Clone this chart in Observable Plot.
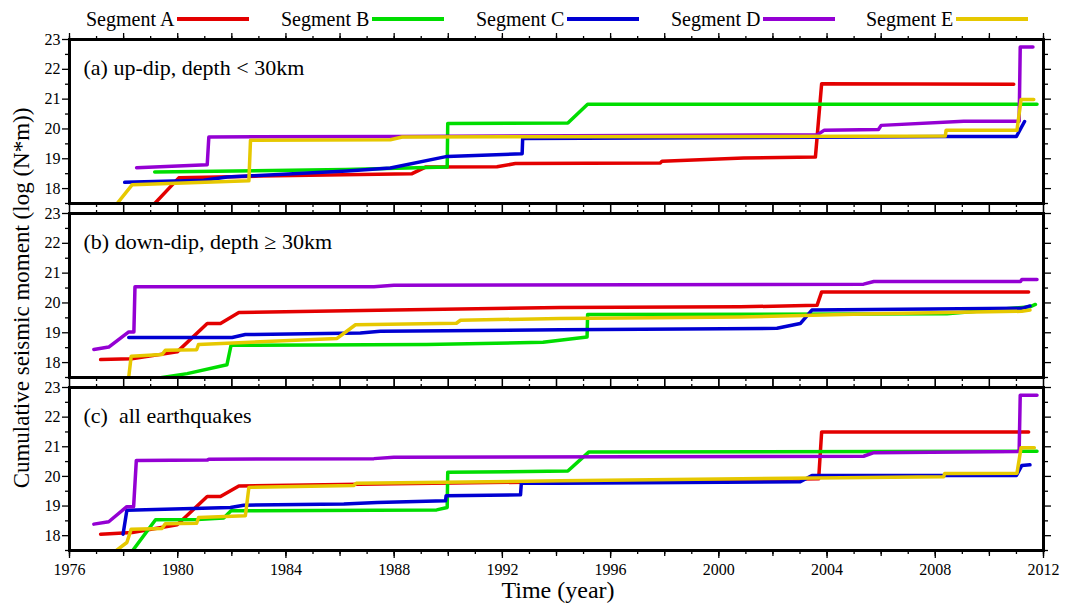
<!DOCTYPE html>
<html><head><meta charset="utf-8">
<script src="https://cdn.jsdelivr.net/npm/d3@7"></script>
<script src="https://cdn.jsdelivr.net/npm/@observablehq/plot@0.6"></script>
<style>
body{margin:0;background:#fff;}
#root{position:relative;width:1072px;height:608px;font-family:"Liberation Serif","Times New Roman",serif;color:#000;overflow:hidden;}
.pl{position:absolute;left:0;}
.lg{position:absolute;top:6px;left:86px;display:flex;}
.li{display:flex;align-items:center;width:195px;font-size:20px;line-height:26px;}
.sw{width:72px;height:4px;margin-left:3px;}
.ylab{position:absolute;left:-278px;top:285px;width:600px;text-align:center;font-size:23px;line-height:26px;transform:rotate(-90deg);transform-origin:50% 50%;white-space:nowrap;}
.xlab{position:absolute;left:258px;top:577px;width:600px;text-align:center;font-size:24px;line-height:26px;}
</style></head><body><div id="root"></div>
<script>
// ---- data ----
const segments = ["Segment A","Segment B","Segment C","Segment D","Segment E"];
const colors = ["#e30000","#00dd00","#0000d2","#9400d3","#e6c800"];
const panelLabels = ["(a) up-dip, depth < 30km","(b) down-dip, depth \u2265 30km","(c)\u00a0 all earthquakes"];
const yTicks = [18,19,20,21,22,23];
const yMinorTicks = [17.5,18.5,19.5,20.5,21.5,22.5];
const xTickLabels = [1976,1980,1984,1988,1992,1996,2000,2004,2008,2012];
const xEvenYears = d3.range(1976, 2013, 2);
const xYears = d3.range(1976, 2013, 1);

// (a) up-dip, [year, log moment]
const upA = [[1979.15,17.5],[1980.04,18.36],[1983,18.42],[1988.66,18.5],[1989.16,18.72],[1991.8,18.73],[1992.48,18.84],[1997.84,18.86],[1997.9,18.92],[2000.92,19.03],[2003.57,19.06],[2003.8,21.52],[2010.9,21.5]];
const upB = [[1979.15,18.56],[1986.2,18.64],[1989.96,18.72],[1989.98,20.18],[1994.42,20.2],[1995.15,20.83],[2011.76,20.83]];
const upC = [[1978.04,18.21],[1980.96,18.28],[1981.83,18.39],[1986.26,18.59],[1987.86,18.69],[1989.96,19.08],[1992.73,19.17],[1992.75,19.68],[2003.6,19.72],[2008.43,19.75],[2011.0,19.75],[2011.3,20.25]];
const upD = [[1978.48,18.7],[1981.09,18.8],[1981.15,19.73],[1987.99,19.75],[2003.63,19.8],[2003.9,19.96],[2005.9,19.98],[2006.0,20.12],[2009.05,20.26],[2011.1,20.26],[2011.14,22.75],[2011.61,22.75]];
const upE = [[1977.76,17.5],[1978.32,18.13],[1982.63,18.26],[1982.69,19.62],[1987.86,19.64],[1988.3,19.73],[2008.37,19.76],[2008.4,19.96],[2011.02,19.96],[2011.17,20.99],[2011.64,20.99]];

// (b) down-dip
const downA = [[1977.15,18.1],[1978.3,18.13],[1979.98,18.36],[1981.09,19.31],[1981.58,19.31],[1982.26,19.68],[1987.98,19.76],[1994.14,19.85],[2000.8,19.87],[2003.63,19.92],[2003.8,20.37],[2011.45,20.37]];
const downB = [[1979.12,17.46],[1980.35,17.63],[1981.82,17.93],[1981.97,18.58],[1989.2,18.61],[1993.5,18.68],[1995.13,18.86],[1995.15,19.61],[2008.43,19.64],[2011.5,19.87],[2011.7,19.95]];
const downC = [[1978.19,18.84],[1982.01,18.84],[1982.5,18.94],[1986.75,18.99],[1987.49,19.05],[1994.14,19.1],[2002.15,19.15],[2003.01,19.31],[2003.44,19.76],[2011.2,19.82],[2011.5,19.9]];
const downD = [[1976.9,18.44],[1977.45,18.52],[1978.19,19.03],[1978.38,19.03],[1978.42,20.54],[1987.25,20.54],[1987.99,20.59],[2005.35,20.63],[2005.73,20.72],[2011.15,20.72],[2011.2,20.79],[2011.76,20.79]];
const downE = [[1978.19,17.52],[1978.28,18.21],[1979.42,18.27],[1979.54,18.41],[1980.7,18.43],[1980.77,18.61],[1985.89,18.81],[1986.57,19.27],[1990.3,19.32],[1990.45,19.42],[1994.14,19.48],[2000.8,19.53],[2005.73,19.64],[2011.2,19.72],[2011.5,19.76]];

// (c) all earthquakes
const allA = [[1977.15,18.05],[1978.32,18.11],[1979.98,18.37],[1981.09,19.32],[1981.58,19.32],[1982.26,19.68],[1988,19.75],[1994.14,19.82],[2003.69,19.92],[2003.8,21.5],[2011.45,21.5]];
const allB = [[1978.32,17.48],[1979.18,18.54],[1980.72,18.55],[1981.7,18.6],[1981.97,18.84],[1989.57,18.87],[1989.96,18.95],[1989.98,20.14],[1994.42,20.18],[1995.19,20.82],[2011.76,20.85]];
const allC = [[1977.98,18.05],[1978.12,18.86],[1981.95,18.95],[1982.44,19.03],[1986.14,19.07],[1987.37,19.12],[1989.9,19.18],[1989.92,19.35],[1992.67,19.38],[1992.7,19.77],[1994.14,19.77],[2003.01,19.82],[2003.44,20.03],[2011.0,20.03],[2011.2,20.37],[2011.5,20.39]];
const allD = [[1976.9,18.39],[1977.45,18.47],[1978.12,18.98],[1978.37,18.98],[1978.47,20.54],[1981.09,20.55],[1981.15,20.58],[1987.25,20.6],[1987.99,20.65],[2005.35,20.68],[2005.73,20.8],[2011.1,20.84],[2011.14,22.74],[2011.76,22.74]];
const allE = [[1977.7,17.48],[1978.12,17.77],[1978.28,18.22],[1979.42,18.24],[1979.54,18.4],[1980.7,18.42],[1980.77,18.61],[1982.5,18.67],[1982.63,19.63],[1986.5,19.69],[1986.6,19.77],[1994.14,19.85],[2003.6,19.95],[2008.31,19.99],[2008.35,20.1],[2011.02,20.11],[2011.17,20.97],[2011.66,20.97]];

const panels = [
  {series:[upA,upB,upC,upD,upE], label:panelLabels[0], top:27, mt:12, h:164, mb:5, bottom:false},
  {series:[downA,downB,downC,downD,downE], label:panelLabels[1], top:208, mt:5, h:164, mb:5, bottom:false},
  {series:[allA,allB,allC,allD,allE], label:panelLabels[2], top:382, mt:5, h:163, mb:50, bottom:true}
];

const root = document.getElementById("root");
const blank = () => "";
const FF = "'Liberation Serif', 'Times New Roman', serif";

for (const p of panels) {
  const data = p.series.flatMap((pts, i) => pts.map(([t, v]) => ({t, v, seg: segments[i]})));
  const axOpts = {label: null, strokeWidth: 1.3};
  const marks = [
    Plot.line(data, {x: "t", y: "v", z: "seg", stroke: "seg", strokeWidth: 3.5, clip: true}),
    Plot.axisY({...axOpts, anchor: "left", ticks: yTicks, tickSize: 7, tickPadding: 2, fontSize: 16, tickFormat: d => String(d)}),
    Plot.axisY({...axOpts, anchor: "left", ticks: yMinorTicks, tickSize: 4, tickFormat: blank}),
    Plot.axisY({...axOpts, anchor: "right", ticks: yTicks, tickSize: 7, tickFormat: blank}),
    Plot.axisY({...axOpts, anchor: "right", ticks: yMinorTicks, tickSize: 4, tickFormat: blank}),
    Plot.axisX({...axOpts, anchor: "top", ticks: xYears, tickSize: 4, tickFormat: blank}),
    Plot.axisX({...axOpts, anchor: "top", ticks: xEvenYears, tickSize: 7, tickFormat: blank}),
    Plot.axisX({...axOpts, anchor: "bottom", ticks: xYears, tickSize: 4, tickFormat: blank}),
    p.bottom
      ? Plot.axisX({...axOpts, anchor: "bottom", ticks: xTickLabels, tickSize: 8, tickPadding: 5, tickFormat: d => String(d), fontSize: 16})
      : Plot.axisX({...axOpts, anchor: "bottom", ticks: xEvenYears, tickSize: 7, tickFormat: blank}),
    p.bottom ? Plot.axisX({...axOpts, anchor: "bottom", ticks: xEvenYears, tickSize: 6, tickFormat: blank}) : null,
    Plot.frame({stroke: "black", strokeWidth: 3}),
    Plot.text([p.label], {text: d => d, frameAnchor: "top-left", textAnchor: "start", lineAnchor: "middle", dx: 14, dy: 28, fontSize: 22, fill: "black"})
  ].filter(Boolean);
  const svg = Plot.plot({
    width: 1072,
    height: p.mt + p.h + p.mb,
    marginLeft: 69, marginRight: 29, marginTop: p.mt, marginBottom: p.mb,
    x: {domain: [1976, 2012]},
    y: {domain: [17.5, 23]},
    color: {domain: segments, range: colors},
    style: "background: transparent; overflow: visible; color: black; font-family: " + FF + ";",
    marks
  });
  svg.classList.add("pl");
  svg.style.top = p.top + "px";
  svg.setAttribute("font-family", "Liberation Serif");
  svg.querySelectorAll("text").forEach(t => { t.style.fontFamily = FF; });
  root.appendChild(svg);
}

// legend
const lg = document.createElement("div");
lg.className = "lg";
segments.forEach((s, i) => {
  const it = document.createElement("div");
  it.className = "li";
  const tx = document.createElement("span");
  tx.textContent = s;
  const sw = document.createElement("span");
  sw.className = "sw";
  sw.style.background = colors[i];
  it.appendChild(tx); it.appendChild(sw);
  lg.appendChild(it);
});
root.appendChild(lg);

const yl = document.createElement("div");
yl.className = "ylab";
yl.textContent = "Cumulative seismic moment (log (N*m))";
root.appendChild(yl);

const xl = document.createElement("div");
xl.className = "xlab";
xl.textContent = "Time (year)";
root.appendChild(xl);
</script>
</body></html>
